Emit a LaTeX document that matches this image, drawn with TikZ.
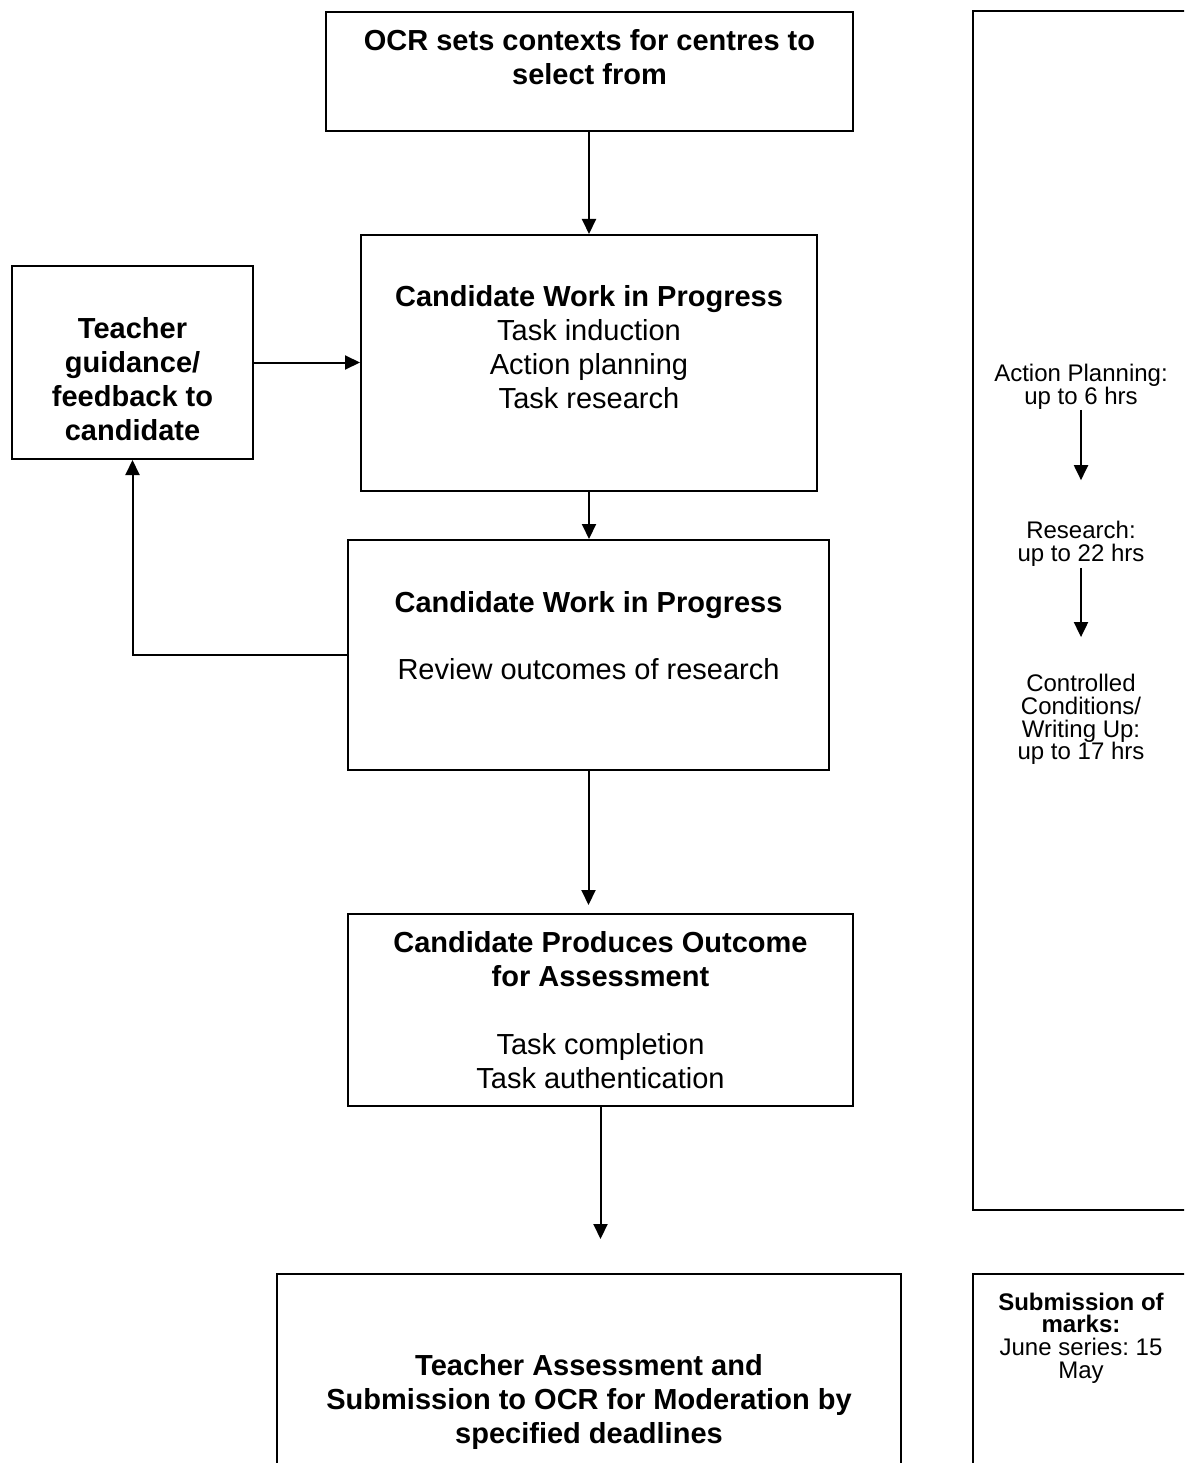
\documentclass[tikz,border=0pt]{standalone}
\usepackage{fontspec}
\setmainfont{Liberation Sans}
\usetikzlibrary{arrows.meta}
\frenchspacing
\begin{document}
\begin{tikzpicture}[x=1pt,y=-1pt,line width=2pt,
    box/.style={draw,inner sep=0pt},
    txt/.style={align=center,font=\fontsize{29}{34}\selectfont},
    side/.style={align=center,font=\fontsize{24}{22.6}\selectfont},
    arr/.style={-{Triangle[length=15pt,width=14pt]}}]
    \clip (0,0) rectangle (1184,1463);
    \useasboundingbox (0,0) rectangle (1184,1463);
    % boxes
    \node[box,minimum width=527pt,minimum height=119pt] (ocr) at (589,71.5) {};
    \node[box,minimum width=456pt,minimum height=256pt] (wip1) at (589,363) {};
    \node[box,minimum width=241pt,minimum height=193pt] (teach) at (132.5,362.5) {};
    \node[box,minimum width=481pt,minimum height=230pt] (wip2) at (588.5,655) {};
    \node[box,minimum width=505pt,minimum height=192pt] (outc) at (600.5,1010) {};
    \node[box,minimum width=624pt,minimum height=250pt] (mod) at (589,1399) {};
    \node[box,minimum width=216pt,minimum height=1199pt] (hours) at (1081,610.5) {};
    \node[box,minimum width=216pt,minimum height=250pt] (marks) at (1081,1399) {};
    % texts
    \node[txt] (ocr-t) at (589.5,57) {\textbf{OCR sets contexts for centres to}\\\textbf{select from}};
    \node[txt] (wip1-t) at (589,347.5) {\textbf{Candidate Work in Progress}\\Task induction\\Action planning\\Task research};
    \node[txt] (teach-t) at (132.5,379.5) {\textbf{Teacher}\\\textbf{guidance/}\\\textbf{feedback to}\\\textbf{candidate}};
    \node[txt] (wip2-t) at (588.5,636) {\textbf{Candidate Work in Progress}\\[33pt]Review outcomes of research};
    \node[txt] (outc-t) at (600.5,1010) {\textbf{Candidate Produces Outcome}\\\textbf{for Assessment}\\[34pt]Task completion\\Task authentication};
    \node[txt] (mod-t) at (589,1402) {\textbf{Teacher Assessment and}\\\textbf{Submission to OCR for Moderation by}\\\textbf{specified deadlines}};
    \node[side] (ap) at (1081,387) {Action Planning:\\up to 6 hrs};
    \node[side] (res) at (1081,544) {Research:\\up to 22 hrs};
    \node[side] (cc) at (1081,719.5) {Controlled\\Conditions/\\Writing Up:\\up to 17 hrs};
    \node[side] (marks-t) at (1081,1338) {\textbf{Submission of}\\\textbf{marks:}\\June series: 15\\May};
    % arrows
    \draw[arr] (ocr.south) -- (ocr.south |- wip1.north);
    \draw[arr] (teach.east) -- (teach.east -| wip1.west);
    \draw[arr] (wip1.south) -- (wip1.south |- wip2.north);
    \draw[arr] (wip2.west) -| (teach.south);
    \draw[arr,shorten >=8pt] (wip2.south) -- (wip2.south |- outc.north);
    \draw[arr,shorten >=34pt] (outc.south) -- (outc.south |- mod.north);
    \draw[arr,shorten <=-4pt,shorten >=37pt] (ap) -- (res);
    \draw[arr,shorten <=-3pt,shorten >=33pt] (res) -- (cc);
\end{tikzpicture}
\end{document}
